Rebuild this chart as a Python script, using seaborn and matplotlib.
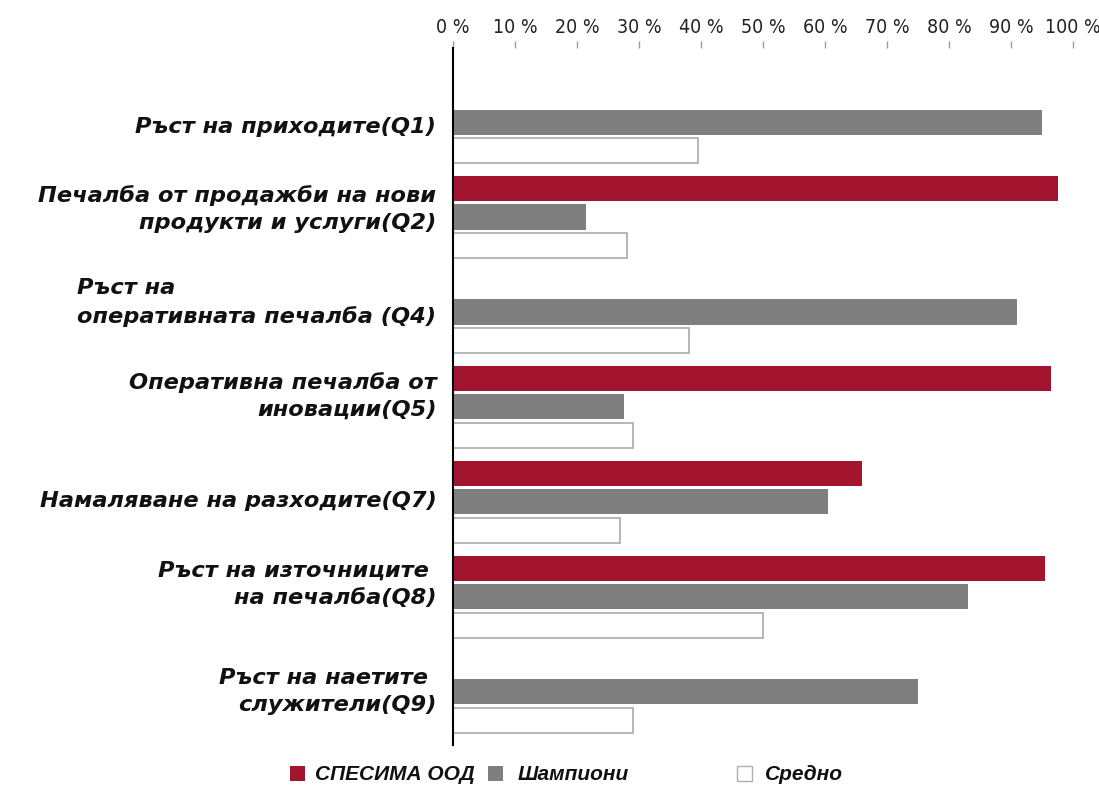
import matplotlib
matplotlib.use("Agg")
import matplotlib.pyplot as plt
import seaborn as sns
import pandas as pd
from matplotlib.patches import Rectangle
from matplotlib.transforms import ScaledTranslation

# Indicators (top to bottom)
categories = [
    "Ръст на приходите(Q1)",
    "Печалба от продажби на нови\nпродукти и услуги(Q2)",
    "Ръст на\nоперативната печалба (Q4)",
    "Оперативна печалба от\nиновации(Q5)",
    "Намаляване на разходите(Q7)",
    "Ръст на източниците \nна печалба(Q8)",
    "Ръст на наетите \nслужители(Q9)",
]
series_names = ["СПЕСИМА ООД", "Шампиони", "Средно"]

# Share of answers, %
spesima = [0, 97.5, 0, 96.5, 66, 95.5, 0]
champions = [95, 21.5, 91, 27.5, 60.5, 83, 75]
average = [39.5, 28, 38, 29, 27, 50, 29]

tick_values = list(range(0, 101, 10))
tick_labels = [f"{v} %" for v in tick_values]

RED = "#A3142F"
GREY = "#7F7F7F"
WHITE = "#FFFFFF"
EDGE = "#B0B0B0"

sns.set_theme(style="white")
plt.rcParams["font.family"] = ["DejaVu Sans"]

rows = []
for cat, a, b, c in zip(categories, spesima, champions, average):
    rows.append({"cat": cat, "series": series_names[0], "val": a})
    rows.append({"cat": cat, "series": series_names[1], "val": b})
    rows.append({"cat": cat, "series": series_names[2], "val": c})
df = pd.DataFrame(rows)

W, H = 1099, 785
fig = plt.figure(figsize=(W / 100, H / 100), dpi=100)
fig.patch.set_facecolor("white")
ax = fig.add_axes([453 / W, 1 - 745 / H, 620 / W, (745 - 48) / H])

sns.barplot(
    data=df, y="cat", x="val", hue="series",
    order=categories, hue_order=series_names,
    palette=[RED, GREY, WHITE], saturation=1,
    orient="h", width=0.9, gap=0.12,
    edgecolor="none", legend=False, ax=ax,
)

# outlined bars for the average series
for p in ax.containers[2]:
    p.set_edgecolor(EDGE)
    p.set_linewidth(1.3)

ax.set_xlim(0, 100)
ax.set_ylim(6.56, -0.78)
ax.set_xlabel("")
ax.set_ylabel("")

ax.xaxis.tick_top()
ax.set_xticks(tick_values, tick_labels)
ax.tick_params(axis="x", top=True, bottom=False, length=5, width=1,
               color="#9A9A9A", pad=3, labelsize=14, labelcolor="#222222")
for lab in ax.get_xticklabels():
    lab.set_family(["DejaVu Sans"])
    lab.set_stretch("condensed")

ax.tick_params(axis="y", left=False, length=0, pad=12)
label_align = ["right", "right", "left", "right", "right", "right", "right"]
label_shift = [-2, 10, 11, 12, 2, 13, 4]
for lab, al, dy in zip(ax.get_yticklabels(), label_align, label_shift):
    lab.set_family(["DejaVu Sans"])
    lab.set_fontsize(16.2)
    lab.set_fontweight("bold")
    lab.set_fontstyle("oblique")
    lab.set_color("#111111")
    lab.set_multialignment(al)
    lab.set_linespacing(1.45)
    lab.set_transform(lab.get_transform() + ScaledTranslation(0, dy / 72, fig.dpi_scale_trans))

for side in ["top", "right", "bottom"]:
    ax.spines[side].set_visible(False)
ax.spines["left"].set_color("#000000")
ax.spines["left"].set_linewidth(1.5)
ax.grid(False)

# legend row
legend_items = [
    (290, RED, "none", series_names[0], 315),
    (488, GREY, "none", series_names[1], 518),
    (737, WHITE, EDGE, series_names[2], 765),
]
for x0, fc, ec, text, tx in legend_items:
    fig.add_artist(Rectangle((x0 / W, 1 - 781 / H), 15 / W, 15 / H,
                             facecolor=fc, edgecolor=ec, linewidth=1,
                             transform=fig.transFigure))
    fig.text(tx / W, 1 - 774 / H, text, ha="left", va="center",
             fontsize=15, fontweight="bold", fontstyle="italic",
             family=["Liberation Sans", "DejaVu Sans"], color="#111111")

fig.savefig("out.png", dpi=100, facecolor="white")
